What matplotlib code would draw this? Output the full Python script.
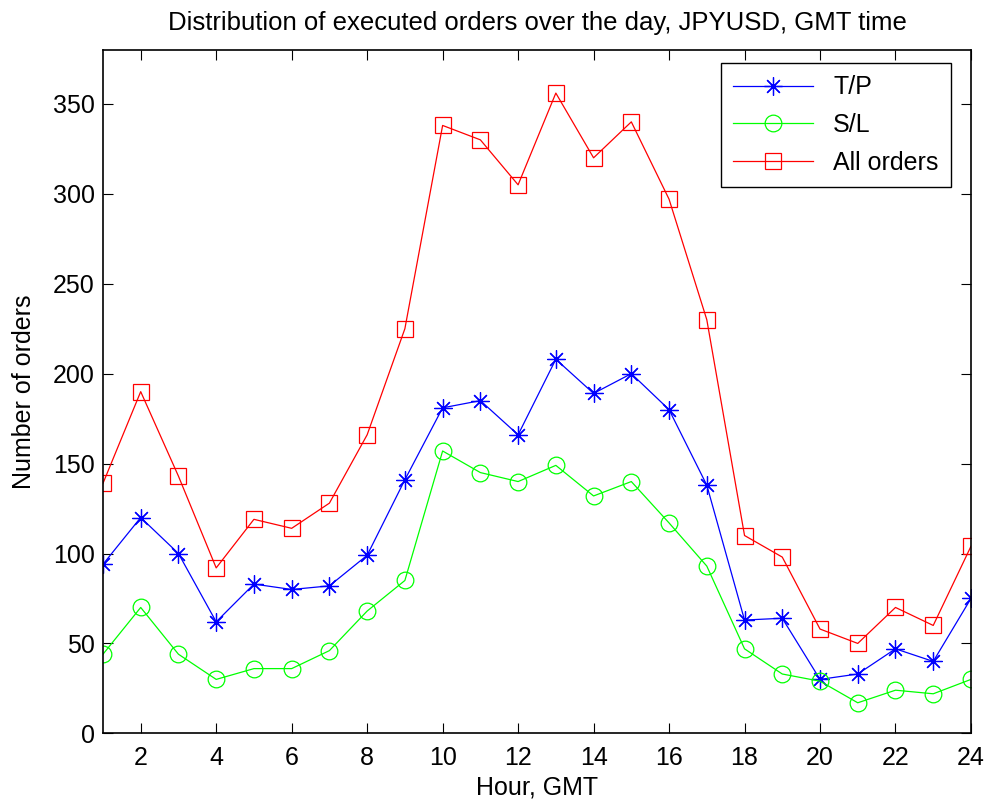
import numpy as np
import matplotlib
matplotlib.use('Agg')
import matplotlib.pyplot as plt

plt.rcParams['font.family'] = ['Liberation Sans', 'DejaVu Sans']

# Hourly counts of executed orders (JPYUSD, GMT)
hours = np.arange(1, 25)
tp_orders = [94, 120, 100, 62, 83, 80, 82, 99, 141, 181, 185, 166,
             208, 189, 200, 180, 138, 63, 64, 30, 33, 47, 40, 75]
sl_orders = [44, 70, 44, 30, 36, 36, 46, 68, 85, 157, 145, 140,
             149, 132, 140, 117, 93, 47, 33, 29, 17, 24, 22, 30]
all_orders = [139, 190, 143, 92, 119, 114, 128, 166, 225, 338, 330, 305,
              356, 320, 340, 297, 230, 110, 98, 58, 50, 70, 60, 104]

fig = plt.figure(figsize=(9.92, 8.05), dpi=100)
ax = fig.add_axes([0.1038, 0.089, 0.875, 0.849])

# MATLAB-like asterisk: 8 spokes
ax.plot(hours, tp_orders, color='blue', marker=(8, 2, 0), markersize=13,
        markeredgewidth=0.9, lw=0.9, label='T/P')
ax.plot(hours, sl_orders, color=(0, 1, 0), marker='o', markersize=12,
        markerfacecolor='none', markeredgewidth=0.9, lw=0.9, label='S/L')
ax.plot(hours, all_orders, color='red', marker='s', markersize=12,
        markerfacecolor='none', markeredgewidth=0.9, lw=0.9, label='All orders')

ax.set_xlim(1, 24)
ax.set_ylim(0, 380)
ax.set_xticks(np.arange(2, 25, 2))
ax.set_yticks(np.arange(0, 351, 50))
ax.tick_params(direction='in', top=True, right=True, labelsize=18, length=7)
ax.tick_params(axis='x', pad=9)
ax.tick_params(axis='y', pad=6)
for s in ax.spines.values():
    s.set_linewidth(1.2)

ax.set_title('Distribution of executed orders over the day, JPYUSD, GMT time',
             fontsize=18.5, pad=14)
ax.set_xlabel('Hour, GMT', fontsize=18, labelpad=4)
ax.set_ylabel('Number of orders', fontsize=18, labelpad=12)

leg = ax.legend(loc='upper right', fontsize=18, fancybox=False, framealpha=1,
                edgecolor='black', handlelength=3.2, borderpad=0.5,
                labelspacing=0.55, borderaxespad=0,
                bbox_to_anchor=(0.977, 0.981))
leg.get_frame().set_linewidth(1.0)

fig.savefig('out.png', dpi=100)
